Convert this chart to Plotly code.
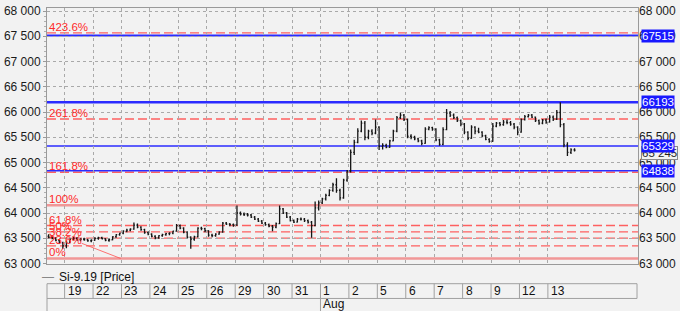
import numpy as np
import plotly.graph_objects as go

# ---------------- data ----------------
day_labels = ["", "19", "22", "23", "24", "25", "26", "29", "30", "31",
              "1", "2", "5", "6", "7", "8", "9", "12", "13"]
month_label = "Aug"
month_start_day = "1"
bars_per_day = [5] + [8] * 18
slots_per_day = 8

opens = [
    63540, 63520, 63500, 63460, 63410,
    63350, 63420, 63480, 63500, 63470, 63480, 63470, 63450,
    63460, 63500, 63510, 63490, 63460, 63470, 63530, 63570,
    63600, 63640, 63660, 63680, 63760, 63720, 63670, 63610,
    63580, 63540, 63510, 63550, 63570, 63590, 63600, 63640,
    63750, 63700, 63620, 63520, 63480, 63530, 63700, 63690,
    63650, 63560, 63550, 63580, 63620, 63800, 63780, 63770,
    63760, 64000, 63980, 63970, 63960, 63920, 63880, 63840,
    63800, 63770, 63740, 63720, 63790, 64080, 64000, 63920,
    63850, 63820, 63880, 63880, 63850, 63820, 63750, 64100,
    64200, 64280, 64350, 64450, 64560, 64450, 64300, 64650,
    64830, 65200, 65400, 65620, 65780, 65500, 65620, 65580,
    65700, 65320, 65340, 65300, 65430, 65620, 65890, 65940,
    65850, 65520, 65500, 65470, 65430, 65380, 65660, 65690,
    65660, 65450, 65360, 65650, 65980, 65940, 65890, 65830,
    65760, 65600, 65480, 65700, 65620, 65600, 65530, 65460,
    65420, 65720, 65780, 65750, 65800, 65790, 65760, 65700,
    65600, 65850, 65910, 65940, 65900, 65830, 65780, 65840,
    65800, 65900, 65860, 65990, 65750, 65350, 65200, 65250,
]
highs = [
    63580, 63560, 63520, 63480, 63430,
    63450, 63500, 63530, 63520, 63500, 63510, 63490, 63480,
    63520, 63530, 63530, 63500, 63490, 63540, 63580, 63610,
    63660, 63690, 63700, 63810, 63790, 63740, 63690, 63640,
    63600, 63560, 63560, 63590, 63610, 63620, 63650, 63780,
    63770, 63720, 63640, 63540, 63550, 63720, 63730, 63710,
    63660, 63590, 63600, 63640, 63820, 63820, 63800, 63790,
    64150, 64030, 64010, 64000, 63980, 63940, 63900, 63860,
    63820, 63790, 63760, 63810, 64150, 64100, 64020, 63940,
    63870, 63900, 63910, 63900, 63870, 63840, 64230, 64250,
    64300, 64380, 64470, 64600, 64690, 64480, 64680, 64850,
    65260, 65450, 65680, 65830, 65820, 65650, 65660, 65850,
    65720, 65380, 65370, 65450, 65650, 65920, 65990, 65960,
    65870, 65560, 65530, 65490, 65450, 65700, 65720, 65710,
    65680, 65470, 65700, 66060, 66020, 65970, 65910, 65850,
    65780, 65620, 65740, 65720, 65690, 65620, 65550, 65480,
    65780, 65800, 65800, 65840, 65850, 65820, 65780, 65720,
    65870, 65940, 65960, 65960, 65910, 65850, 65860, 65870,
    65940, 65930, 66040, 66193, 65780, 65400, 65280, 65280,
]
lows = [
    63500, 63480, 63440, 63390, 63290,
    63300, 63400, 63460, 63450, 63440, 63450, 63430, 63420,
    63450, 63470, 63480, 63440, 63430, 63460, 63510, 63550,
    63580, 63620, 63640, 63670, 63700, 63650, 63590, 63560,
    63520, 63480, 63490, 63530, 63550, 63560, 63580, 63630,
    63680, 63600, 63500, 63290, 63450, 63520, 63660, 63620,
    63530, 63520, 63530, 63570, 63610, 63760, 63740, 63730,
    63750, 63950, 63940, 63930, 63900, 63860, 63820, 63780,
    63750, 63720, 63640, 63700, 63780, 63980, 63900, 63830,
    63800, 63810, 63850, 63820, 63790, 63510, 63740, 64050,
    64180, 64250, 64330, 64420, 64400, 64250, 64280, 64620,
    64800, 65150, 65380, 65600, 65440, 65460, 65540, 65560,
    65250, 65260, 65280, 65290, 65420, 65600, 65860, 65820,
    65480, 65460, 65440, 65400, 65340, 65370, 65640, 65630,
    65420, 65330, 65340, 65640, 65900, 65860, 65800, 65720,
    65560, 65440, 65470, 65560, 65580, 65500, 65440, 65390,
    65410, 65700, 65720, 65730, 65760, 65730, 65660, 65540,
    65590, 65830, 65890, 65880, 65800, 65750, 65760, 65770,
    65790, 65820, 65840, 65700, 65300, 65130, 65170, 65220,
]
closes = [
    63520, 63500, 63460, 63410, 63350,
    63420, 63480, 63500, 63470, 63480, 63470, 63450, 63460,
    63500, 63510, 63490, 63460, 63470, 63530, 63570, 63600,
    63640, 63660, 63680, 63760, 63720, 63670, 63610, 63580,
    63540, 63510, 63550, 63570, 63590, 63600, 63640, 63750,
    63700, 63620, 63520, 63480, 63530, 63700, 63690, 63650,
    63560, 63550, 63580, 63620, 63800, 63780, 63770, 63760,
    64000, 63980, 63970, 63960, 63920, 63880, 63840, 63800,
    63770, 63740, 63720, 63790, 64080, 64000, 63920, 63850,
    63820, 63880, 63880, 63850, 63820, 63750, 64100, 64200,
    64280, 64350, 64450, 64560, 64450, 64300, 64650, 64830,
    65200, 65400, 65620, 65780, 65500, 65620, 65580, 65700,
    65320, 65340, 65300, 65430, 65620, 65890, 65940, 65850,
    65520, 65500, 65470, 65430, 65380, 65660, 65690, 65660,
    65450, 65360, 65650, 65980, 65940, 65890, 65830, 65760,
    65600, 65480, 65700, 65620, 65600, 65530, 65460, 65420,
    65720, 65780, 65750, 65800, 65790, 65760, 65700, 65600,
    65850, 65910, 65940, 65900, 65830, 65780, 65840, 65800,
    65900, 65860, 65990, 65750, 65350, 65200, 65250, 65245,
]
last_price = 65245
last_price_label = "65 245"

fib_low = 63100
fib_high = 64155
fib_ratios = [0.0, 0.236, 0.382, 0.5, 0.618, 1.0, 1.618, 2.618, 4.236]
fib_labels = ["0%", "23.6%", "38.2%", "50%", "61.8%", "100%", "161.8%", "261.8%", "423.6%"]
fib_trend_x = [0.6, 1.97]          # time (day index) of fib tool baseline
fib_trend_y = [63400, 63100]

blue_levels = [67515, 66193, 65329, 64838]
blue_widths = [2, 2.5, 1.5, 1.5]

y_ticks = [63000, 63500, 64000, 64500, 65000, 65500, 66000, 66500, 67000, 67500, 68000]
y_tick_labels = ["63 000", "63 500", "64 000", "64 500", "65 000", "65 500",
                 "66 000", "66 500", "67 000", "67 500", "68 000"]

series_name = "Si-9.19 [Price]"

# ---------------- geometry ----------------
W, H = 680, 311
PL, PR, PT, PB = 40, 641, 4, 264
XMIN, XMAX = -0.62, 20.17
YMIN, YMAX = 62990, 68060

def xpaper(d):
    return (d - XMIN) / (XMAX - XMIN)

def pxx(px):
    return (px - PL) / (PR - PL)

def pxy(py):
    return (PB - py) / (PB - PT)

fib_solid = [r in (0.0, 1.0) for r in fib_ratios]

# bar x positions from day index / slot
xs = []
for i, n in enumerate(bars_per_day):
    d = i - 1
    for k in range(slots_per_day - n, slots_per_day):
        xs.append(d + (k + 0.5) / slots_per_day)

BG = "#f2f2f2"
FONT = "Liberation Sans, Arial, sans-serif"
GRID = "#a9a9a9"
BLUE = "#2b2bff"

fig = go.Figure()
fig.add_trace(go.Ohlc(
    x=xs, open=opens, high=highs, low=lows, close=closes,
    increasing=dict(line=dict(color="#151515", width=1.3)),
    decreasing=dict(line=dict(color="#151515", width=1.3)),
    tickwidth=0.3, showlegend=False, hoverinfo="skip",
))
# invisible trace for right axis
fig.add_trace(go.Scatter(x=xs, y=closes, yaxis="y2", mode="lines",
                         line=dict(width=0), opacity=0, showlegend=False,
                         hoverinfo="skip"))

shapes = []
annotations = []

# fib levels
for r, lab, solid in zip(fib_ratios, fib_labels, fib_solid):
    lvl = fib_low + r * (fib_high - fib_low)
    if solid:
        line = dict(color="rgba(240,120,120,0.75)", width=2.5)
    else:
        line = dict(color="rgba(255,80,80,0.9)", width=1.3, dash="9px,4px")
    shapes.append(dict(type="line", xref="paper", yref="y", x0=0, x1=1,
                       y0=lvl, y1=lvl, line=line, layer="between"))
    annotations.append(dict(xref="paper", yref="y", x=0, y=lvl, xanchor="left",
                            yanchor="bottom", xshift=0, yshift=-2, text=lab,
                            showarrow=False,
                            font=dict(family=FONT, size=11.5, color="#ff2a2a")))
# fib baseline
shapes.append(dict(type="line", xref="x", yref="y", x0=fib_trend_x[0], x1=fib_trend_x[1],
                   y0=fib_trend_y[0], y1=fib_trend_y[1],
                   line=dict(color="rgba(255,80,80,0.8)", width=1), layer="between"))

# blue levels
for lvl, w in zip(blue_levels, blue_widths):
    shapes.append(dict(type="line", xref="paper", yref="y", x0=0, x1=1,
                       y0=lvl, y1=lvl, line=dict(color=BLUE, width=w), layer="between"))

# last price label (mostly hidden)
annotations.append(dict(xref="paper", yref="y", x=1, y=last_price, xanchor="left",
                        yanchor="middle", xshift=3, yshift=-3, text=last_price_label,
                        showarrow=False, bgcolor=BG, bordercolor="#8a8a8a",
                        borderwidth=1, borderpad=0,
                        font=dict(family=FONT, size=11.5, color="#222")))
for lvl in blue_levels:
    annotations.append(dict(xref="paper", yref="y", x=1, y=lvl, xanchor="left",
                            yanchor="middle", xshift=3, text=str(lvl),
                            showarrow=False, bgcolor="#1818ff", borderpad=0,
                            font=dict(family=FONT, size=11.5, color="white")))

# legend
annotations.append(dict(xref="paper", yref="paper", x=pxx(33), y=pxy(277),
                        xanchor="left", yanchor="middle", text="—", showarrow=False,
                        font=dict(family=FONT, size=12, color="#888")))
annotations.append(dict(xref="paper", yref="paper", x=pxx(50), y=pxy(277),
                        xanchor="left", yanchor="middle", text=series_name, showarrow=False,
                        font=dict(family=FONT, size=12, color="#111")))

# date table
TLINE = dict(color="#a0a0a0", width=1)
t_top, t_mid, t_bot = pxy(284), pxy(299), pxy(312)
shapes.append(dict(type="line", xref="paper", yref="paper", x0=0, x1=pxx(640),
                   y0=t_top, y1=t_top, line=TLINE))
shapes.append(dict(type="line", xref="paper", yref="paper", x0=0, x1=pxx(640),
                   y0=t_mid, y1=t_mid, line=TLINE))
shapes.append(dict(type="line", xref="paper", yref="paper", x0=0, x1=0,
                   y0=t_top, y1=t_bot, line=TLINE))
shapes.append(dict(type="line", xref="paper", yref="paper", x0=pxx(640), x1=pxx(640),
                   y0=t_top, y1=t_mid, line=TLINE))
for i, lab in enumerate(day_labels):
    d = i - 1
    if d < 0:
        continue
    xp = xpaper(d)
    shapes.append(dict(type="line", xref="paper", yref="paper", x0=xp, x1=xp,
                       y0=t_top, y1=t_mid, line=TLINE))
    annotations.append(dict(xref="paper", yref="paper", x=xp, y=pxy(291.5),
                            xanchor="left", yanchor="middle", xshift=1, text=lab,
                            showarrow=False,
                            font=dict(family=FONT, size=12, color="#111")))
    if lab == month_start_day:
        shapes.append(dict(type="line", xref="paper", yref="paper", x0=xp, x1=xp,
                           y0=t_mid, y1=t_bot, line=TLINE))
        annotations.append(dict(xref="paper", yref="paper", x=xp, y=pxy(304.5),
                                xanchor="left", yanchor="middle", xshift=1,
                                text=month_label, showarrow=False,
                                font=dict(family=FONT, size=12, color="#111")))

n_days = len(day_labels) - 1
fig.update_layout(
    width=W, height=H,
    margin=dict(l=PL, r=W - PR, t=PT, b=H - PB),
    paper_bgcolor=BG, plot_bgcolor=BG,
    showlegend=False,
    shapes=shapes, annotations=annotations,
    xaxis=dict(range=[XMIN, XMAX], tickvals=list(range(n_days)), showticklabels=False,
               showgrid=True, gridcolor=GRID, griddash="dot", gridwidth=1,
               zeroline=False, showline=True, linecolor="#9a9a9a", mirror=True,
               ticks="", rangeslider=dict(visible=False), fixedrange=True),
    yaxis=dict(range=[YMIN, YMAX], tickvals=y_ticks, ticktext=y_tick_labels,
               showgrid=True, gridcolor=GRID, griddash="dot", gridwidth=1,
               zeroline=False, showline=True, linecolor="#9a9a9a", mirror=True,
               ticks="outside", ticklen=3, tickcolor="#9a9a9a",
               minor=dict(ticks="outside", ticklen=2, dtick=100, tickcolor="#b0b0b0",
                          showgrid=False),
               tickfont=dict(family=FONT, size=12, color="#1a1a1a")),
    yaxis2=dict(range=[YMIN, YMAX], tickvals=y_ticks, ticktext=y_tick_labels,
                overlaying="y", side="right", showgrid=False, zeroline=False,
                ticks="", tickfont=dict(family=FONT, size=12, color="#1a1a1a")),
)

fig.write_html("out.html")
